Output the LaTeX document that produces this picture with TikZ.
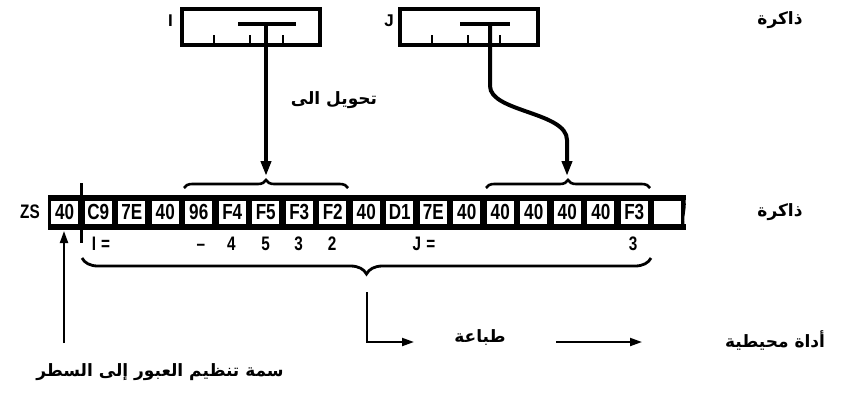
\documentclass[tikz,border=0pt]{standalone}
\usepackage{fontspec}
\setmainfont{Liberation Sans}
\newfontfamily\arabicfont[Script=Arabic]{DejaVu Sans}
\TeXXeTstate=1
\usetikzlibrary{decorations.pathreplacing,arrows.meta}
\newcommand{\ctext}[1]{\scalebox{0.9}[1.15]{#1}}
\begin{document}
\begin{tikzpicture}[x=1pt,y=-1pt,
  cellbox/.style={fill=white, inner sep=0pt, minimum width=27pt, minimum height=23pt,
    font=\bfseries\fontsize{19}{19}\selectfont},
  lat/.style={inner sep=0pt, font=\bfseries\fontsize{17}{17}\selectfont},
  sub/.style={lat, anchor=base},
  ar/.style={inner sep=0pt, font=\arabicfont\bfseries\fontsize{17}{20}\selectfont},
  membox/.style={draw, line width=4pt, minimum width=138pt, minimum height=36pt, inner sep=0pt},
  tbar/.style={line width=4pt},
  tick/.style={line width=2.5pt},
  bigarr/.style={line width=4pt, -{Triangle[length=15pt,width=10pt]}},
  thinarr/.style={line width=2pt, -{Triangle[length=12pt,width=8pt]}},
  topbrace/.style={decorate, decoration={brace, amplitude=8pt}, line width=2.6pt},
  botbrace/.style={decorate, decoration={brace, amplitude=16pt}, line width=2.8pt},
]
\useasboundingbox (0,0) rectangle (842,392);

% memory boxes
\node[membox] (boxI) at (251,26.5) {};
\node[lat, anchor=east] (labI) at (173,21) {I};
\draw[tbar] (238,24) -- (296,24);
\coordinate (stemI) at (266,24);
\foreach \x in {214,250,283} \draw[tick] (\x,35) -- (\x,43);

\node[membox] (boxJ) at (469,26.5) {};
\node[lat, anchor=east] (labJ) at (394,21) {J};
\draw[tbar] (460,24) -- (510,24);
\coordinate (stemJ) at (490,24);
\foreach \x in {432,468,500} \draw[tick] (\x,35) -- (\x,43);

\node[ar] (mem1) at (780,20) {\beginR ذاكرة\endR};

% arrows from memory
\coordinate (tipI) at (266,176);
\coordinate (tipJ) at (567,176);
\draw[bigarr] (stemI) -- (tipI);
\draw[bigarr] (stemJ) -- (490,86) .. controls (490,112) and (567,112) .. (567,140) -- (tipJ);
\node[ar] (conv) at (334,100) {\beginR تحويل الى\endR};

% top braces
\draw[topbrace] (184,188) -- (348,188);
\draw[topbrace] (486,188) -- (650,188);

% record row
\fill (48,195) rectangle (686,229.5);
\foreach \t [count=\i from 0] in {40,C9,7E,40,96,F4,F5,F3,F2,40,D1,7E,40,40,40,40,40,F3,{}} {
  \node[cellbox] (c\i) at ({48+33.5*(\i+0.5)},212) {\ctext{\t}};
}
\fill[white] (684,200) rectangle (690,224);
\draw[line width=3pt] (683,197) .. controls (687,206) and (680,218) .. (684,228);
\node[lat] (zs) at (30,212) {\ctext{ZS}};
\node[ar] (mem2) at (780,212) {\beginR ذاكرة\endR};

\draw[line width=3.5pt] (81.5,183) -- (81.5,243);

% labels under row
\node[sub] (lI) at (101,250) {\ctext{I\,\,=}};
\node[sub] (lt) at (201,250) {\ctext{–}};
\node[sub] (l4) at (231.5,250) {\ctext{4}};
\node[sub] (l5) at (265.5,250) {\ctext{5}};
\node[sub] (l3) at (298.5,250) {\ctext{3}};
\node[sub] (l2) at (332,250) {\ctext{2}};
\node[sub] (lJ) at (424,250) {\ctext{J\,\,=}};
\node[sub] (l3b) at (633,250) {\ctext{3}};

% bottom brace
\draw[botbrace] (651,258) -- (82,258);

% new line attribute arrow
\coordinate (nlS) at (64,343);
\coordinate (nlE) at (64,231);
\draw[thinarr] (nlS) -- (nlE);
\node[ar] (nl) at (160,372) {\beginR سمة تنظيم العبور إلى السطر\endR};

% printer
\coordinate (pS) at (366.5,292);
\coordinate (pE) at (414,342);
\draw[thinarr] (pS) |- (pE);
\node[ar] (print) at (480,338) {\beginR طباعة\endR};
\coordinate (aS) at (556,342);
\coordinate (aE) at (642,342);
\draw[thinarr] (aS) -- (aE);
\node[ar] (periph) at (775,340) {\beginR أداة محيطية\endR};
\end{tikzpicture}
\end{document}
